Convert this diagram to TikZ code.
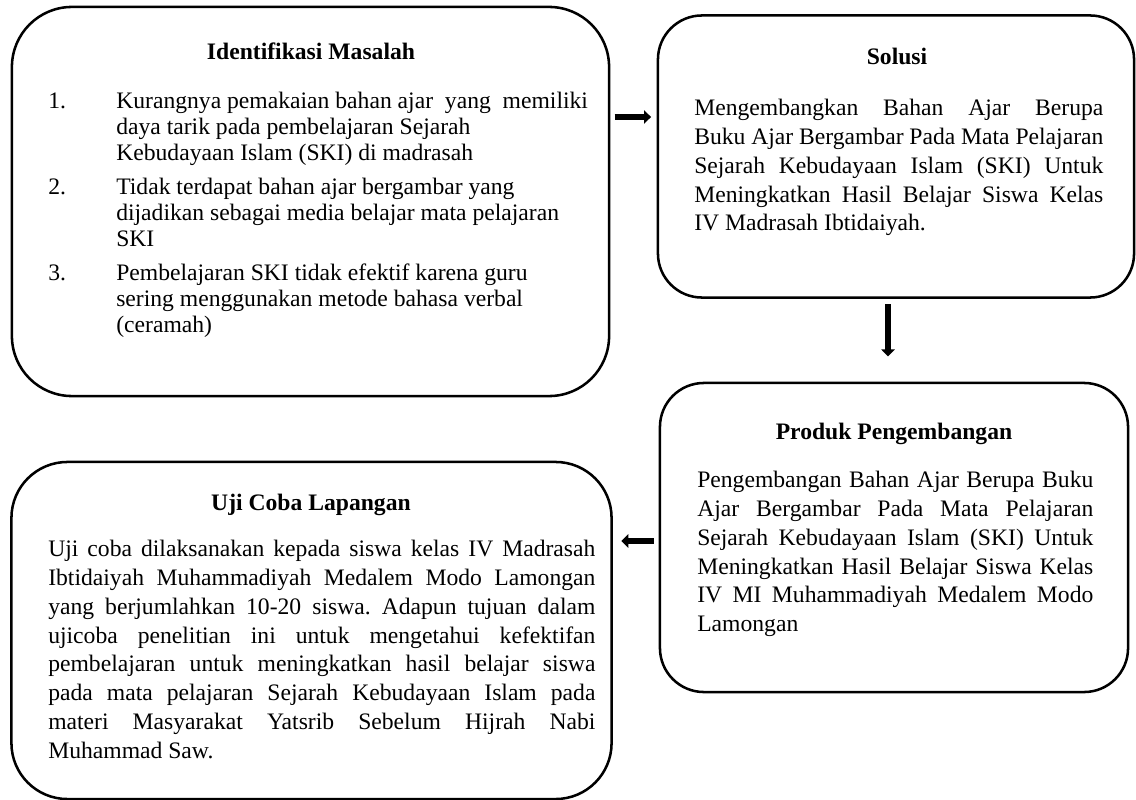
\documentclass[tikz,border=0pt]{standalone}
\usepackage{fontspec}
\setmainfont{Liberation Serif}
\usepackage{tikz}
\usetikzlibrary{arrows.meta}

\begin{document}
\frenchspacing
\begin{tikzpicture}
    [x=0.025cm, y=-0.025cm,
    kotak/.style = {draw, line width=1.8pt, inner sep=0pt},
    judul/.style = {anchor=base, inner sep=0pt,
                    font=\fontsize{16.8}{19}\selectfont\bfseries},
    isi/.style = {anchor=north west, inner sep=0pt, align=justify,
                  font=\fontsize{16.8}{20.5}\selectfont,
                  execute at begin node={\hyphenpenalty=10000\exhyphenpenalty=10000}},
    panah/.style = {-{Triangle[length=5pt,width=9.5pt]}, line width=4pt}]
    \useasboundingbox (0,0) rectangle (1136,800);
    % Kotak identifikasi masalah
    \node[kotak, rounded corners=1.5cm, minimum width=14.925cm,
          minimum height=9.725cm] (masalah) at (310.5,201.5) {};
    % Kotak solusi
    \node[kotak, rounded corners=1.1cm, minimum width=11.9cm,
          minimum height=7.05cm] (solusi) at (896,156.5) {};
    % Kotak produk pengembangan
    \node[kotak, rounded corners=1.1cm, minimum width=11.7cm,
          minimum height=7.725cm] (produk) at (894,537.5) {};
    % Kotak uji coba lapangan
    \node[kotak, rounded corners=1.4cm, minimum width=15cm,
          minimum height=8.425cm] (uji) at (311.5,630.5) {};
    % Judul
    \node[judul] (jmasalah) at (311,59.5) {Identifikasi Masalah};
    \node[judul] (jsolusi) at (897,65) {Solusi};
    \node[judul] (jproduk) at (894,439.5) {Produk Pengembangan};
    \node[judul] (juji) at (311,510.5) {Uji Coba Lapangan};
    % Isi kotak
    \node[isi, align=left, font=\fontsize{16.8}{18.5}\selectfont] (imasalah) at (48,90) {%
        \begin{tabular}{@{}p{1.7cm}@{}l@{}}
        1. & Kurangnya pemakaian bahan ajar\ \ yang\ \ memiliki \\
           & daya tarik pada pembelajaran Sejarah \\
           & Kebudayaan Islam (SKI) di madrasah \\[5.7pt]
        2. & Tidak terdapat bahan ajar bergambar yang \\
           & dijadikan sebagai media belajar mata pelajaran \\
           & SKI \\[5.7pt]
        3. & Pembelajaran SKI tidak efektif karena guru \\
           & sering menggunakan metode bahasa verbal \\
           & (ceramah)
        \end{tabular}};
    \node[isi, text width=10.225cm] (isolusi) at (694,99) {Mengembangkan Bahan Ajar Berupa\linebreak
        Buku Ajar Bergambar Pada Mata Pelajaran\linebreak
        Sejarah Kebudayaan Islam (SKI) Untuk\linebreak
        Meningkatkan Hasil Belajar Siswa Kelas\linebreak
        IV Madrasah Ibtidaiyah.};
    \node[isi, text width=9.9cm] (iproduk) at (697,471) {Pengembangan Bahan Ajar Berupa Buku\linebreak
        Ajar Bergambar Pada Mata Pelajaran\linebreak
        Sejarah Kebudayaan Islam (SKI) Untuk\linebreak
        Meningkatkan Hasil Belajar Siswa Kelas\linebreak
        IV MI Muhammadiyah Medalem Modo\linebreak
        Lamongan};
    \node[isi, text width=13.675cm] (iuji) at (48,540) {Uji coba dilaksanakan kepada siswa kelas IV Madrasah\linebreak
        Ibtidaiyah Muhammadiyah Medalem Modo Lamongan\linebreak
        yang berjumlahkan 10-20 siswa. Adapun tujuan dalam\linebreak
        ujicoba penelitian ini untuk mengetahui kefektifan\linebreak
        pembelajaran untuk meningkatkan hasil belajar siswa\linebreak
        pada mata pelajaran Sejarah Kebudayaan Islam pada\linebreak
        materi Masyarakat Yatsrib Sebelum Hijrah Nabi\linebreak
        Muhammad Saw.};
    % Panah
    \draw[panah] ([xshift=3pt]masalah.east |- 0,117) -- ([xshift=-4pt]solusi.west |- 0,117);
    \draw[panah] (solusi.south -| 888,0) -- (produk.north -| 888,0)
        [shorten <=4pt, shorten >=18pt];
    \draw[panah] ([xshift=-3.5pt]produk.west |- 0,541) -- ([xshift=6pt]uji.east |- 0,541);
\end{tikzpicture}
\end{document}
